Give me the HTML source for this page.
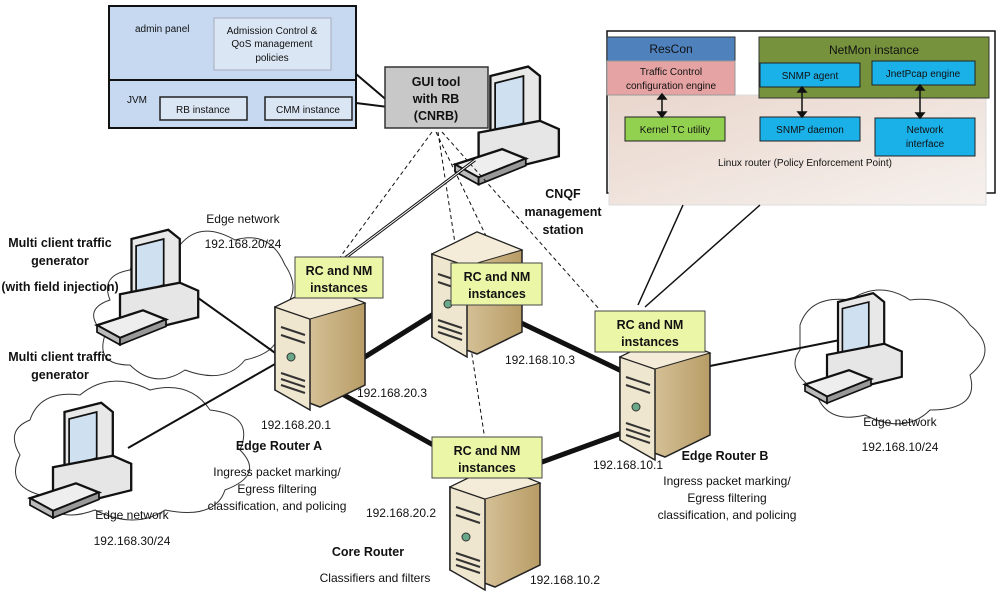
<!DOCTYPE html>
<html><head><meta charset="utf-8"><style>
body{margin:0;background:#fff}
svg{display:block;font-family:"Liberation Sans",sans-serif}
.t{font-size:12px;fill:#111}
.b{font-size:12.5px;font-weight:bold;fill:#111}
.s{font-size:10px;fill:#111}
</style></head><body>
<svg width="1000" height="605" viewBox="0 0 1000 605" xmlns="http://www.w3.org/2000/svg">
<defs>
<linearGradient id="srvR" x1="0" x2="1"><stop offset="0" stop-color="#e6d7b4"/><stop offset="1" stop-color="#b89c66"/></linearGradient>
<linearGradient id="lin" x1="0" y1="0" x2="1" y2="1"><stop offset="0" stop-color="#e9d6cc"/><stop offset="1" stop-color="#f6f1ee"/></linearGradient>
<g id="pc">
 <polygon points="30,0 62,-8 72,0 72,48 40,58 30,52" fill="#e8e8e8" stroke="#111" stroke-width="2"/>
 <polygon points="34,6 58,0 58,40 34,48" fill="#cfe0f0" stroke="#111" stroke-width="1.5"/>
 <polygon points="20,48 72,38 88,45 88,68 40,80 20,72" fill="#e6e6e6" stroke="#111" stroke-width="2"/>
 <polygon points="0,75 40,62 60,70 20,86" fill="#eee" stroke="#111" stroke-width="2"/>
 <polygon points="0,75 20,86 20,92 0,81" fill="#bbb" stroke="#111" stroke-width="1.5"/>
 <polygon points="20,86 60,70 60,76 20,92" fill="#999" stroke="#111" stroke-width="1.5"/>
</g>
<g id="srv">
 <polygon points="0,22 45,0 90,18 90,100 45,122 0,105" fill="url(#srvR)" stroke="#222" stroke-width="1.5"/>
 <polygon points="0,22 35,34 35,125 0,105" fill="#efe6cf" stroke="#222" stroke-width="1.5"/>
 <polygon points="0,22 45,0 90,18 35,34" fill="#f4ecd8" stroke="#222" stroke-width="1"/>
 <path d="M6,42 L30,50 M6,50 L30,58 M6,88 L30,96 M6,94 L30,102 M6,100 L30,108" stroke="#333" stroke-width="2"/>
 <circle cx="16" cy="72" r="4" fill="#6aa88a" stroke="#333"/>
</g>
</defs>

<!-- clouds -->
<g fill="#fff" stroke="#333" stroke-width="1">
 <path d="M130,270 q10,-30 50,-25 q20,-25 55,-5 q35,-10 50,25 q20,30 -10,50 q15,35 -30,45 q-20,25 -60,10 q-30,20 -55,-5 q-35,0 -25,-30 q-25,-25 5,-35 q-10,-25 20,-30z"/>
 <path d="M30,420 q10,-30 50,-25 q30,-25 70,-5 q40,-10 60,20 q45,5 30,40 q25,25 -15,40 q-10,30 -60,20 q-30,20 -70,0 q-40,15 -55,-15 q-35,-10 -20,-40 q-15,-25 10,-35z"/>
 <path d="M800,325 q10,-30 50,-25 q30,-20 60,0 q40,-5 60,25 q30,25 0,50 q10,35 -40,35 q-25,25 -65,5 q-40,10 -50,-25 q-30,-20 -15,-40z"/>
</g>

<!-- top-left panel -->
<rect x="109" y="6" width="247" height="122" fill="#c6d9f1" stroke="#111" stroke-width="2"/>
<line x1="109" y1="80" x2="356" y2="80" stroke="#111" stroke-width="2"/>
<rect x="214" y="18" width="117" height="52" fill="#dbe6f4" stroke="#aab" />
<text class="s" x="272" y="34" text-anchor="middle">Admission Control &amp;</text>
<text class="s" x="272" y="47" text-anchor="middle">QoS management</text>
<text class="s" x="272" y="61" text-anchor="middle">policies</text>
<text class="s" x="135" y="32">admin panel</text>
<text class="s" x="127" y="103">JVM</text>
<rect x="160" y="97" width="87" height="23" fill="#dbe6f4" stroke="#222" stroke-width="1.5"/>
<text class="s" x="203" y="113" text-anchor="middle">RB instance</text>
<rect x="265" y="97" width="87" height="23" fill="#dbe6f4" stroke="#222" stroke-width="1.5"/>
<text class="s" x="308" y="113" text-anchor="middle">CMM instance</text>
<polyline points="356,74 396,108 356,103" fill="none" stroke="#111" stroke-width="2"/>

<!-- GUI tool -->
<rect x="385" y="67" width="103" height="61" fill="#c8c8c8" stroke="#333" stroke-width="1.5"/>
<text class="b" x="436" y="86" text-anchor="middle">GUI tool</text>
<text class="b" x="436" y="103" text-anchor="middle">with RB</text>
<text class="b" x="436" y="120" text-anchor="middle">(CNRB)</text>
<g transform="translate(455,76) scale(1.18)"><use href="#pc"/></g>

<!-- dashed lines -->
<g stroke="#111" stroke-width="1" stroke-dasharray="4,3" fill="none">
 <line x1="432" y1="132" x2="338" y2="260"/>
 <line x1="436" y1="132" x2="500" y2="265"/>
 <line x1="438" y1="132" x2="485" y2="440"/>
 <line x1="442" y1="132" x2="600" y2="310"/>
</g>
<line x1="475" y1="160" x2="345" y2="258" stroke="#111" stroke-width="3"/>
<line x1="475" y1="160" x2="345" y2="258" stroke="#fff" stroke-width="1"/>

<!-- right panel -->
<rect x="607" y="31" width="388" height="162" fill="#fff" stroke="#111" stroke-width="1.5"/>
<rect x="609" y="95" width="377" height="110" fill="url(#lin)" stroke="#ddd"/>
<rect x="607" y="37" width="128" height="24" fill="#4f81bd" stroke="#333"/>
<text class="t" x="671" y="53" text-anchor="middle">ResCon</text>
<rect x="607" y="61" width="128" height="34" fill="#e6a3a3" stroke="#999"/>
<text class="s" x="671" y="75" text-anchor="middle">Traffic Control</text>
<text class="s" x="671" y="89" text-anchor="middle">configuration engine</text>
<rect x="759" y="37" width="230" height="61" fill="#76923c" stroke="#333"/>
<text class="t" x="874" y="54" text-anchor="middle">NetMon instance</text>
<rect x="760" y="63" width="100" height="24" fill="#1ab0e8" stroke="#222"/>
<text class="s" x="810" y="79" text-anchor="middle">SNMP agent</text>
<rect x="872" y="61" width="103" height="24" fill="#1ab0e8" stroke="#222"/>
<text class="s" x="923" y="77" text-anchor="middle">JnetPcap engine</text>
<rect x="625" y="117" width="100" height="24" fill="#92d050" stroke="#222"/>
<text class="s" x="675" y="133" text-anchor="middle">Kernel TC utility</text>
<rect x="760" y="117" width="100" height="24" fill="#1ab0e8" stroke="#222"/>
<text class="s" x="810" y="133" text-anchor="middle">SNMP daemon</text>
<rect x="875" y="118" width="100" height="38" fill="#1ab0e8" stroke="#222"/>
<text class="s" x="925" y="133" text-anchor="middle">Network</text>
<text class="s" x="925" y="147" text-anchor="middle">interface</text>
<text class="s" x="805" y="166" text-anchor="middle">Linux router (Policy Enforcement Point)</text>
<g stroke="#111" stroke-width="1.5" fill="#111">
 <line x1="662" y1="96" x2="662" y2="115"/><polygon points="658,99 666,99 662,94"/><polygon points="658,112 666,112 662,117"/>
 <line x1="802" y1="89" x2="802" y2="115"/><polygon points="798,92 806,92 802,87"/><polygon points="798,112 806,112 802,117"/>
 <line x1="920" y1="87" x2="920" y2="116"/><polygon points="916,90 924,90 920,85"/><polygon points="916,113 924,113 920,118"/>
</g>
<line x1="683" y1="205" x2="638" y2="305" stroke="#111" stroke-width="1.5"/>
<line x1="760" y1="205" x2="645" y2="307" stroke="#111" stroke-width="1.5"/>

<!-- network links -->
<line x1="180" y1="285" x2="285" y2="360" stroke="#111" stroke-width="2"/>
<line x1="128" y1="448" x2="282" y2="360" stroke="#111" stroke-width="2"/>
<line x1="690" y1="370" x2="840" y2="340" stroke="#111" stroke-width="2"/>
<g stroke="#111" stroke-width="5">
 <line x1="360" y1="360" x2="440" y2="310"/>
 <line x1="335" y1="390" x2="460" y2="460"/>
 <line x1="515" y1="320" x2="630" y2="375"/>
 <line x1="520" y1="470" x2="630" y2="430"/>
</g>

<g transform="translate(97,239) scale(1.15)"><use href="#pc"/></g>
<g transform="translate(30,412) scale(1.15)"><use href="#pc"/></g>
<g transform="translate(805,302) scale(1.1)"><use href="#pc"/></g>

<use href="#srv" x="275" y="285"/>
<use href="#srv" x="432" y="232"/>
<use href="#srv" x="620" y="335"/>
<use href="#srv" x="450" y="465"/>

<!-- green labels -->
<g fill="#ebf7a7" stroke="#444" stroke-width="1">
 <rect x="295" y="257" width="88" height="41"/>
 <rect x="451" y="263" width="91" height="42"/>
 <rect x="595" y="311" width="110" height="41"/>
 <rect x="432" y="437" width="110" height="41"/>
</g>
<text class="b" x="339" y="275" text-anchor="middle">RC and NM</text><text class="b" x="339" y="292" text-anchor="middle">instances</text>
<text class="b" x="497" y="281" text-anchor="middle">RC and NM</text><text class="b" x="497" y="298" text-anchor="middle">instances</text>
<text class="b" x="650" y="329" text-anchor="middle">RC and NM</text><text class="b" x="650" y="346" text-anchor="middle">instances</text>
<text class="b" x="487" y="455" text-anchor="middle">RC and NM</text><text class="b" x="487" y="472" text-anchor="middle">instances</text>

<!-- texts -->
<text class="t" x="243" y="223" text-anchor="middle">Edge network</text>
<text class="t" x="243" y="248" text-anchor="middle">192.168.20/24</text>
<text class="b" x="60" y="247" text-anchor="middle">Multi client traffic</text>
<text class="b" x="60" y="265" text-anchor="middle">generator</text>
<text class="b" x="60" y="291" text-anchor="middle">(with field injection)</text>
<text class="b" x="60" y="361" text-anchor="middle">Multi client traffic</text>
<text class="b" x="60" y="379" text-anchor="middle">generator</text>
<text class="b" x="563" y="198" text-anchor="middle">CNQF</text>
<text class="b" x="563" y="216" text-anchor="middle">management</text>
<text class="b" x="563" y="234" text-anchor="middle">station</text>
<text class="t" x="392" y="397" text-anchor="middle">192.168.20.3</text>
<text class="t" x="540" y="364" text-anchor="middle">192.168.10.3</text>
<text class="t" x="296" y="429" text-anchor="middle">192.168.20.1</text>
<text class="b" x="279" y="450" text-anchor="middle">Edge Router A</text>
<text class="t" x="277" y="476" text-anchor="middle">Ingress packet marking/</text>
<text class="t" x="277" y="493" text-anchor="middle">Egress filtering</text>
<text class="t" x="277" y="510" text-anchor="middle">classification, and policing</text>
<text class="t" x="132" y="519" text-anchor="middle">Edge network</text>
<text class="t" x="132" y="545" text-anchor="middle">192.168.30/24</text>
<text class="t" x="401" y="517" text-anchor="middle">192.168.20.2</text>
<text class="b" x="368" y="556" text-anchor="middle">Core Router</text>
<text class="t" x="375" y="582" text-anchor="middle">Classifiers and filters</text>
<text class="t" x="565" y="584" text-anchor="middle">192.168.10.2</text>
<text class="t" x="628" y="469" text-anchor="middle">192.168.10.1</text>
<text class="b" x="725" y="460" text-anchor="middle">Edge Router B</text>
<text class="t" x="727" y="485" text-anchor="middle">Ingress packet marking/</text>
<text class="t" x="727" y="502" text-anchor="middle">Egress filtering</text>
<text class="t" x="727" y="519" text-anchor="middle">classification, and policing</text>
<text class="t" x="900" y="426" text-anchor="middle">Edge network</text>
<text class="t" x="900" y="451" text-anchor="middle">192.168.10/24</text>
</svg>
</body></html>
